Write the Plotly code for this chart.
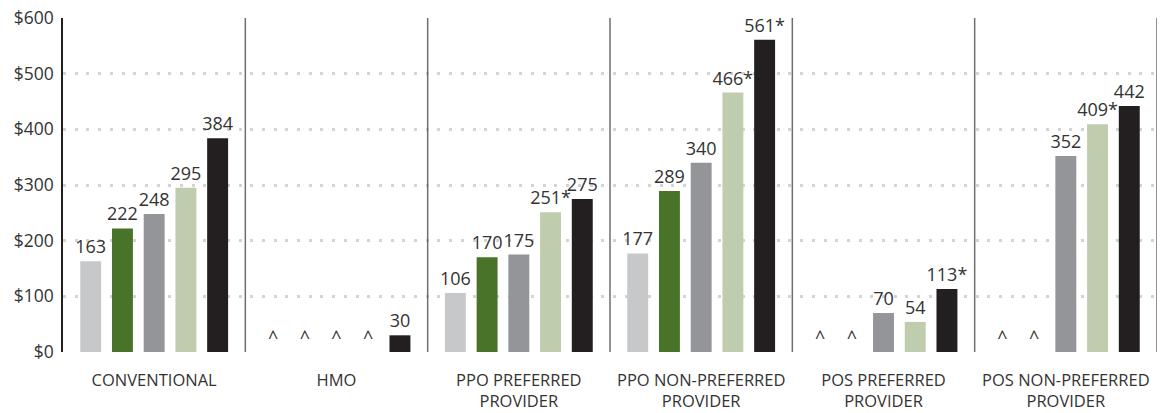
import plotly.graph_objects as go

categories = ["CONVENTIONAL", "HMO", "PPO PREFERRED<br>PROVIDER", "PPO NON-PREFERRED<br>PROVIDER",
              "POS PREFERRED<br>PROVIDER", "POS NON-PREFERRED<br>PROVIDER"]
s1 = [163, None, 106, 177, None, None]
s2 = [222, None, 170, 289, None, None]
s3 = [248, None, 175, 340, 70, 352]
s4 = [295, None, 251, 466, 54, 409]
s5 = [384, 30, 275, 561, 113, 442]
s1_sig = [False, False, False, False, False, False]
s2_sig = [False, False, False, False, False, False]
s3_sig = [False, False, False, False, False, False]
s4_sig = [False, False, True, True, False, True]
s5_sig = [False, False, False, True, True, False]
colors = ["#c7c8ca", "#4a732a", "#939598", "#bfcdae", "#231f20"]
tick_vals = [0, 100, 200, 300, 400, 500, 600]
tick_text = ["$0", "$100", "$200", "$300", "$400", "$500", "$600"]

FONT = "Open Sans"
TXT = "#333333"

fig = go.Figure()
for vals, sig, col in zip([s1, s2, s3, s4, s5], [s1_sig, s2_sig, s3_sig, s4_sig, s5_sig], colors):
    ys = [0 if v is None else v for v in vals]
    texts = ["^" if v is None else (f"{v}*" if s else f"{v}") for v, s in zip(vals, sig)]
    fig.add_trace(go.Bar(
        x=categories, y=ys, marker=dict(color=col, line=dict(width=0)),
        text=texts, textposition="outside", cliponaxis=False, constraintext="none",
        textfont=dict(family=FONT, size=18, color=TXT),
        showlegend=False,
    ))

shapes = []
for i in range(len(categories)):
    xp = i + 0.5
    shapes.append(dict(type="line", xref="x", yref="y", x0=xp, x1=xp, y0=-3, y1=600,
                       line=dict(color="#6d6e70", width=1.5)))

fig.update_layout(
    width=1162, height=413,
    margin=dict(l=63, r=5, t=18, b=61),
    paper_bgcolor="white", plot_bgcolor="white",
    barmode="group", bargap=0.13, bargroupgap=0.34,
    shapes=shapes,
    font=dict(family=FONT, color=TXT),
    uniformtext=dict(minsize=18, mode="show"),
)
fig.update_xaxes(
    range=[-0.5, 5.5], showgrid=False, showline=False, zeroline=False, ticks="",
    tickfont=dict(family=FONT, size=16.5, color=TXT), tickangle=0, ticklabelstandoff=16,
    automargin=False,
)
fig.update_yaxes(
    range=[0, 600], tickvals=tick_vals, ticktext=tick_text,
    showgrid=True, gridcolor="#d2d3d4", gridwidth=3, griddash="3px,8.7px",
    zeroline=False, showline=True, linecolor="#231f20", linewidth=1.5,
    ticks="", tickfont=dict(family=FONT, size=17.5, color=TXT), ticklabelstandoff=4,
    automargin=False,
)

fig.write_html("out.html")
